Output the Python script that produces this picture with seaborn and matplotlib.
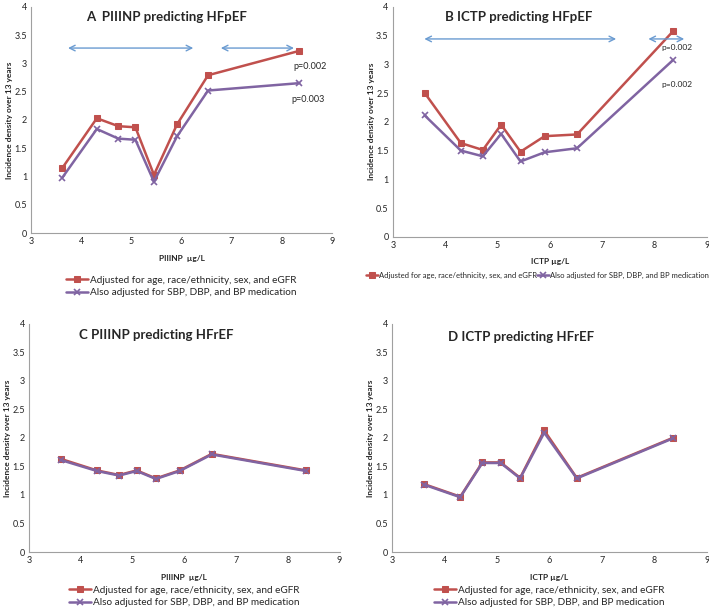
import numpy as np
import pandas as pd
import seaborn as sns
import matplotlib.pyplot as plt

sns.set_style('white')
plt.rcParams['font.family'] = ['Lato', 'DejaVu Sans']

# midpoints on the x axis (same for every panel)
x_piiinp = [3.62, 4.31, 4.74, 5.08, 5.45, 5.91, 6.53, 8.35]
x_ictp = [3.61, 4.30, 4.72, 5.07, 5.44, 5.90, 6.52, 8.35]

# A  PIIINP predicting HFpEF
a_adj = [1.15, 2.03, 1.89, 1.87, 1.03, 1.92, 2.79, 3.22]
a_also = [0.98, 1.84, 1.67, 1.65, 0.91, 1.71, 2.52, 2.65]
# B  ICTP predicting HFpEF
b_adj = [2.50, 1.63, 1.51, 1.95, 1.48, 1.75, 1.78, 3.57]
b_also = [2.11, 1.50, 1.40, 1.79, 1.31, 1.47, 1.54, 3.07]
# C  PIIINP predicting HFrEF
c_adj = [1.63, 1.43, 1.35, 1.43, 1.29, 1.43, 1.72, 1.43]
c_also = [1.61, 1.42, 1.34, 1.42, 1.28, 1.42, 1.71, 1.42]
# D  ICTP predicting HFrEF
d_adj = [1.19, 0.97, 1.57, 1.57, 1.30, 2.13, 1.30, 2.00]
d_also = [1.18, 0.96, 1.56, 1.56, 1.29, 2.09, 1.29, 1.99]

lab_adj = 'Adjusted for age, race/ethnicity, sex, and eGFR'
lab_also = 'Also adjusted for SBP, DBP, and BP medication'
red = '#C0504D'
purple = '#8064A2'
arrow_col = '#6A9BD1'

fig = plt.figure(figsize=(7.09, 6.12), dpi=100)
axA = fig.add_axes([0.044, 0.619, 0.424, 0.370])
axB = fig.add_axes([0.554, 0.613, 0.443, 0.376])
axC = fig.add_axes([0.041, 0.098, 0.438, 0.373])
axD = fig.add_axes([0.553, 0.098, 0.444, 0.373])

# ax, x, series, title, title position (axes fraction), x label
panels = [
    (axA, x_piiinp, a_adj, a_also, 'A  PIIINP predicting HFpEF', (0.45, 0.956), 'PIIINP  \u00b5g/L'),
    (axB, x_ictp, b_adj, b_also, 'B ICTP predicting HFpEF', (0.40, 0.957), 'ICTP \u00b5g/L'),
    (axC, x_piiinp, c_adj, c_also, 'C PIIINP predicting HFrEF', (0.41, 0.95), 'PIIINP  \u00b5g/L'),
    (axD, x_ictp, d_adj, d_also, 'D ICTP predicting HFrEF', (0.41, 0.943), 'ICTP \u00b5g/L'),
]

for ax, xs, adj, also, title, tpos, xlab in panels:
    sns.lineplot(x=xs, y=adj, ax=ax, color=red, marker='s', markersize=5,
                 markeredgecolor=red, linewidth=1.8, label=lab_adj)
    sns.lineplot(x=xs, y=also, ax=ax, color=purple, marker='x', markersize=5,
                 markeredgecolor=purple, markeredgewidth=1.2, linewidth=1.8, label=lab_also)
    ax.set_xlim(3, 9)
    ax.set_ylim(0, 4)
    ax.set_xticks(range(3, 10))
    ax.set_yticks(np.arange(0, 4.01, 0.5))
    ax.set_yticklabels(['0', '0.5', '1', '1.5', '2', '2.5', '3', '3.5', '4'])
    ax.tick_params(labelsize=6.5, length=0, pad=3)
    for s in ['top', 'right']:
        ax.spines[s].set_visible(False)
    for s in ['left', 'bottom']:
        ax.spines[s].set_color('#A0A0A0')
        ax.spines[s].set_linewidth(0.8)
    ax.set_xlabel(xlab, fontsize=6, fontweight='bold', labelpad=6)
    ax.set_ylabel('Incidence density over 13 years', fontsize=6, fontweight='bold', labelpad=1)
    ax.text(tpos[0], tpos[1], title, transform=ax.transAxes, ha='center', va='center',
            fontsize=9.5, fontweight='bold')
    ax.get_legend().remove()

# legends below each panel
for ax, yb in [(axA, -0.17), (axC, -0.13), (axD, -0.13)]:
    ax.legend(loc='upper center', bbox_to_anchor=(0.5, yb), ncol=1, frameon=False,
              fontsize=7.2, handlelength=2.2, handletextpad=0.2, labelspacing=0.35,
              borderaxespad=0)
axB.legend(loc='upper center', bbox_to_anchor=(0.46, -0.14), ncol=2, frameon=False,
           fontsize=5.5, handlelength=1.6, handletextpad=0.1, columnspacing=0.0,
           borderaxespad=0)

# double-headed arrows and p-values
def darrow(ax, x0, x1, y):
    ax.annotate('', xy=(x0, y), xytext=(x1, y),
                arrowprops=dict(arrowstyle='<->', color=arrow_col, lw=1.0))

darrow(axA, 3.68, 6.29, 3.27)
darrow(axA, 6.73, 8.30, 3.27)
axA.text(8.56, 2.94, 'p=0.002', fontsize=6.5, ha='center', va='center')
axA.text(8.52, 2.37, 'p=0.003', fontsize=6.5, ha='center', va='center')

darrow(axB, 3.55, 7.32, 3.44)
darrow(axB, 7.83, 8.62, 3.44)
axB.text(8.43, 3.30, 'p=0.002', fontsize=6, ha='center', va='center')
axB.text(8.43, 2.64, 'p=0.002', fontsize=6, ha='center', va='center')

fig.savefig('out.png', dpi=100)
